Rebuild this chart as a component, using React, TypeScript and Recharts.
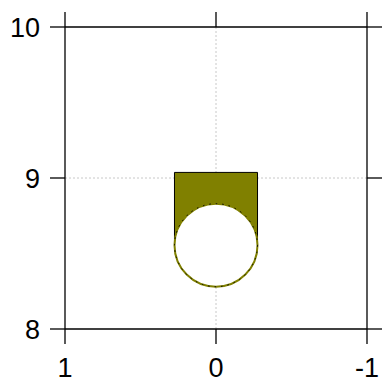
import {
  CartesianGrid,
  ComposedChart,
  ReferenceArea,
  Scatter,
  XAxis,
  YAxis,
} from "recharts";

const xTicks = [-1, 0, 1];
const yTicks = [8, 9, 10];
const xDomain = [-1, 1];
const yDomain = [8, 10];
const xGrid = [0];
const yGrid = [9];

// the olive block (x from / to, y from / to)
const blockX = [-0.275, 0.275];
const blockY = [8.555, 9.037];

// the circle cut out of the bottom of the block
const holeX = [0];
const holeY = [8.555];

const OLIVE = "#808000";
const FONT = "'Liberation Sans', Arial, sans-serif";

const holeData = holeX.map((x, i) => ({ x, y: holeY[i] }));

const noLabel = () => <g />;

const Hole = (props: any) => {
  const { cx, cy } = props;
  return (
    <g>
      <circle cx={cx} cy={cy} r={41.5} fill="#fff" stroke={OLIVE} strokeWidth={2} />
      <circle
        cx={cx}
        cy={cy}
        r={41.5}
        fill="none"
        stroke="#000"
        strokeWidth={1}
        strokeDasharray="1.5 5"
      />
    </g>
  );
};

export default function App() {
  const tickStyle = { fontSize: 27, fill: "#000", fontFamily: FONT };
  const axisLine = { stroke: "#000", strokeWidth: 1.3 };
  const tickLine = { stroke: "#000", strokeWidth: 1.3 };
  return (
    <div style={{ position: "absolute", left: 0, top: 0 }}>
      <ComposedChart
        width={382}
        height={381}
        data={holeData}
        margin={{ top: 12, right: 0, bottom: 0, left: 0 }}
      >
        <CartesianGrid
          stroke="#c8c8c8"
          strokeDasharray="2 2"
          xAxisId="bottom"
          yAxisId="left"
          verticalValues={xGrid}
          horizontalValues={yGrid}
        />
        <XAxis
          xAxisId="bottom"
          type="number"
          dataKey="x"
          domain={xDomain}
          ticks={xTicks}
          reversed
          height={52}
          tickSize={15}
          tickMargin={14}
          axisLine={axisLine}
          tickLine={tickLine}
          tick={tickStyle}
          interval={0}
        />
        <XAxis
          xAxisId="top"
          orientation="top"
          type="number"
          dataKey="x"
          domain={xDomain}
          ticks={xTicks}
          reversed
          height={15}
          tickSize={15}
          axisLine={axisLine}
          tickLine={tickLine}
          tick={noLabel}
          interval={0}
        />
        <YAxis
          yAxisId="left"
          type="number"
          dataKey="y"
          domain={yDomain}
          ticks={yTicks}
          width={65}
          tickSize={15}
          tickMargin={10}
          axisLine={axisLine}
          tickLine={tickLine}
          tick={tickStyle}
          interval={0}
        />
        <YAxis
          yAxisId="right"
          orientation="right"
          type="number"
          dataKey="y"
          domain={yDomain}
          ticks={yTicks}
          width={15}
          tickSize={15}
          axisLine={axisLine}
          tickLine={tickLine}
          tick={noLabel}
          interval={0}
        />
        <ReferenceArea
          xAxisId="bottom"
          yAxisId="left"
          x1={blockX[0]}
          x2={blockX[1]}
          y1={blockY[0]}
          y2={blockY[1]}
          fill={OLIVE}
          fillOpacity={1}
          stroke="#000"
          strokeWidth={1}
          ifOverflow="visible"
        />
        <Scatter
          xAxisId="bottom"
          yAxisId="left"
          data={holeData}
          dataKey="y"
          shape={Hole}
          isAnimationActive={false}
        />
      </ComposedChart>
    </div>
  );
}
